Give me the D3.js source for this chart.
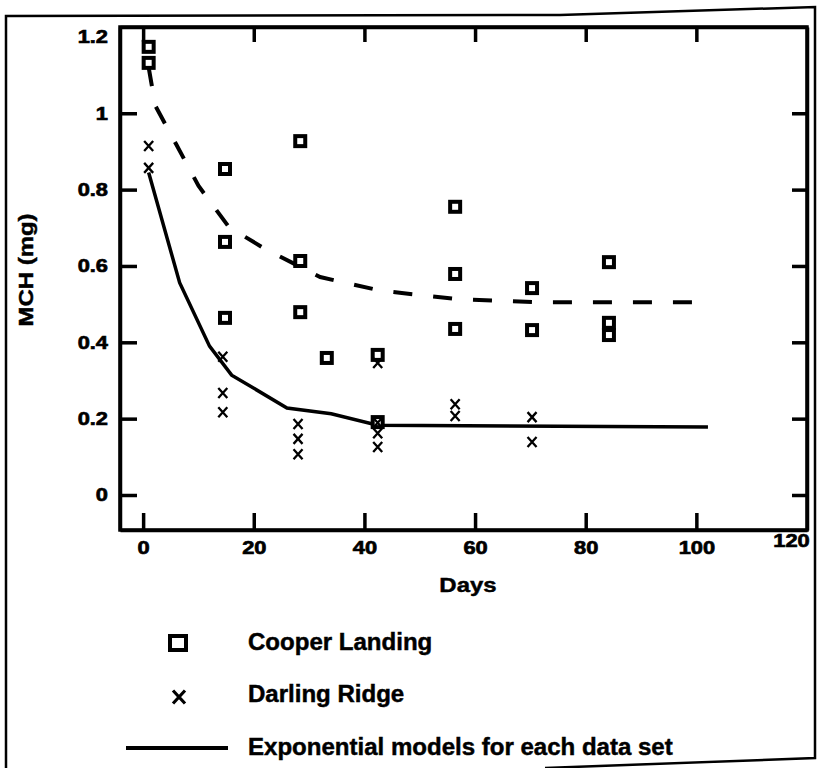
<!DOCTYPE html>
<html><head><meta charset="utf-8">
<script src="https://cdn.jsdelivr.net/npm/d3@7"></script>
<style>
body{margin:0;background:#fff}
svg{display:block}
text{font-family:"Liberation Sans",Arial,sans-serif;font-weight:bold;fill:#000;stroke:#000;stroke-width:0.45px}
</style>
</head><body><svg id="c" width="817" height="768"></svg>
<script>
// ---- data ----
const coopDays = [1,1,14.8,14.8,14.8,28.4,28.4,28.4,33.2,42.4,42.4,56.4,56.4,56.4,70.3,70.3,84.2,84.2,84.2];
const coopMCH  = [1.174,1.132,0.854,0.663,0.464,0.927,0.613,0.479,0.359,0.367,0.191,0.755,0.579,0.435,0.542,0.432,0.610,0.451,0.419];
const darlDays = [1,1,14.4,14.4,14.4,28,28,28,42.4,42.4,42.4,42.4,56.4,56.4,70.3,70.3];
const darlMCH  = [0.914,0.857,0.362,0.267,0.217,0.186,0.147,0.107,0.346,0.189,0.162,0.126,0.238,0.207,0.204,0.139];
const coopModelDays = [1,2.2,6,10,15.5,22,32,43,57,71,101.5];
const coopModelMCH  = [1.12,1.02,0.918,0.81,0.702,0.645,0.571,0.535,0.513,0.505,0.505];
const darlModelDays = [1,6.6,12,16,26,34,42.4,102.1];
const darlModelMCH  = [0.845,0.556,0.39,0.314,0.228,0.213,0.183,0.178];
const xTicks = [0,20,40,60,80,100,120];
const yTicks = [0,0.2,0.4,0.6,0.8,1,1.2];
const yTickLabels = ["0","0.2","0.4","0.6","0.8","1","1.2"];
const xTitle = "Days";
const yTitle = "MCH (mg)";
const legendLabels = ["Cooper Landing","Darling Ridge","Exponential models for each data set"];

const svg = d3.select("#c");
const x = d3.scaleLinear().domain([-4.18,120]).range([120,807]);
const y = d3.scaleLinear().domain([-0.0917,1.226]).range([530,27]);

function stretch(sel,k){
  sel.each(function(){
    const w=this.getComputedTextLength();
    this.setAttribute("textLength",w*k);
    this.setAttribute("lengthAdjust","spacingAndGlyphs");
  });
}

// outer page frame (scan border)
svg.append("path").attr("d","M6,770 L6,16 L560,15 L815,7 L815,758 L545,768")
  .attr("fill","none").attr("stroke","#000").attr("stroke-width",2.5);

// plot frame
svg.append("rect").attr("x",x.range()[0]).attr("y",y.range()[1])
  .attr("width",x.range()[1]-x.range()[0]).attr("height",y.range()[0]-y.range()[1])
  .attr("fill","none").attr("stroke","#000").attr("stroke-width",3.5);

// axes
const gB = svg.append("g").attr("transform",`translate(0,${y.range()[0]})`)
  .call(d3.axisBottom(x).tickValues(xTicks).tickSize(-17).tickSizeOuter(0).tickPadding(11));
gB.selectAll(".tick").filter(d=>d>=120).select("line").remove();
gB.selectAll(".tick").filter(d=>d>=120).select("text").attr("dx",-16).attr("dy","0.35em");

const gL = svg.append("g").attr("transform",`translate(${x.range()[0]},0)`)
  .call(d3.axisLeft(y).tickValues(yTicks).tickFormat((d,i)=>yTickLabels[i]).tickSize(-17).tickSizeOuter(0).tickPadding(12));
gL.selectAll(".tick").filter(d=>d>1.1).select("line").remove();

const gT = svg.append("g").attr("transform",`translate(0,${y.range()[1]})`)
  .call(d3.axisTop(x).tickValues(xTicks.filter(d=>d<120)).tickSize(-15).tickSizeOuter(0).tickFormat(""));
const gR = svg.append("g").attr("transform",`translate(${x.range()[1]},0)`)
  .call(d3.axisRight(y).tickValues(yTicks.filter(d=>d<1.1)).tickSize(-15).tickSizeOuter(0).tickFormat(""));

[gB,gL,gT,gR].forEach(g=>{
  g.select(".domain").attr("stroke","#000").attr("stroke-width",3.5);
  g.selectAll(".tick line").attr("stroke","#000").attr("stroke-width",3.5);
  g.selectAll(".tick text").attr("font-size",18.5).attr("font-family",null).attr("fill","#000")
    .style("stroke-width","0.7px");
});
stretch(gB.selectAll(".tick text"),1.18);
stretch(gL.selectAll(".tick text"),1.18);

// titles
stretch(svg.append("text").attr("x",468).attr("y",592).attr("text-anchor","middle")
  .attr("font-size",21).text(xTitle),1.14);
stretch(svg.append("text").attr("transform","translate(33,270) rotate(-90)").attr("text-anchor","middle")
  .attr("font-size",21).text(yTitle),1.14);

// model lines
const line = d3.line().x(d=>x(d[0])).y(d=>y(d[1]));
svg.append("path").datum(d3.zip(coopModelDays,coopModelMCH)).attr("d",line)
  .attr("fill","none").attr("stroke","#000").attr("stroke-width",4).attr("stroke-dasharray","19,21");
svg.append("path").datum(d3.zip(darlModelDays,darlModelMCH)).attr("d",line)
  .attr("fill","none").attr("stroke","#000").attr("stroke-width",3.5);

// Cooper Landing squares
svg.append("g").selectAll("rect").data(d3.zip(coopDays,coopMCH)).join("rect")
  .attr("x",d=>x(d[0])-5).attr("y",d=>y(d[1])-5).attr("width",10).attr("height",10)
  .attr("fill","#fff").attr("stroke","#000").attr("stroke-width",4);

// Darling Ridge crosses
function xPath(cx,cy,hw,hh){return `M${cx-hw},${cy-hh}L${cx+hw},${cy+hh}M${cx+hw},${cy-hh}L${cx-hw},${cy+hh}`;}
svg.append("g").selectAll("path").data(d3.zip(darlDays,darlMCH)).join("path")
  .attr("d",d=>xPath(x(d[0]),y(d[1]),4.5,5))
  .attr("fill","none").attr("stroke","#000").attr("stroke-width",2.3);

// legend
const lg = svg.append("g");
lg.append("rect").attr("x",170).attr("y",636).attr("width",16).attr("height",14)
  .attr("fill","#fff").attr("stroke","#000").attr("stroke-width",4);
lg.append("path").attr("d",xPath(179,697,6,6.5)).attr("fill","none").attr("stroke","#000").attr("stroke-width",3.2);
lg.append("line").attr("x1",126).attr("x2",228).attr("y1",748).attr("y2",748)
  .attr("stroke","#000").attr("stroke-width",4);
const ly=[650,702,755];
legendLabels.forEach((t,i)=>{
  stretch(lg.append("text").attr("x",248).attr("y",ly[i]).attr("font-size",23).text(t),1.045);
});
</script>
</body></html>
